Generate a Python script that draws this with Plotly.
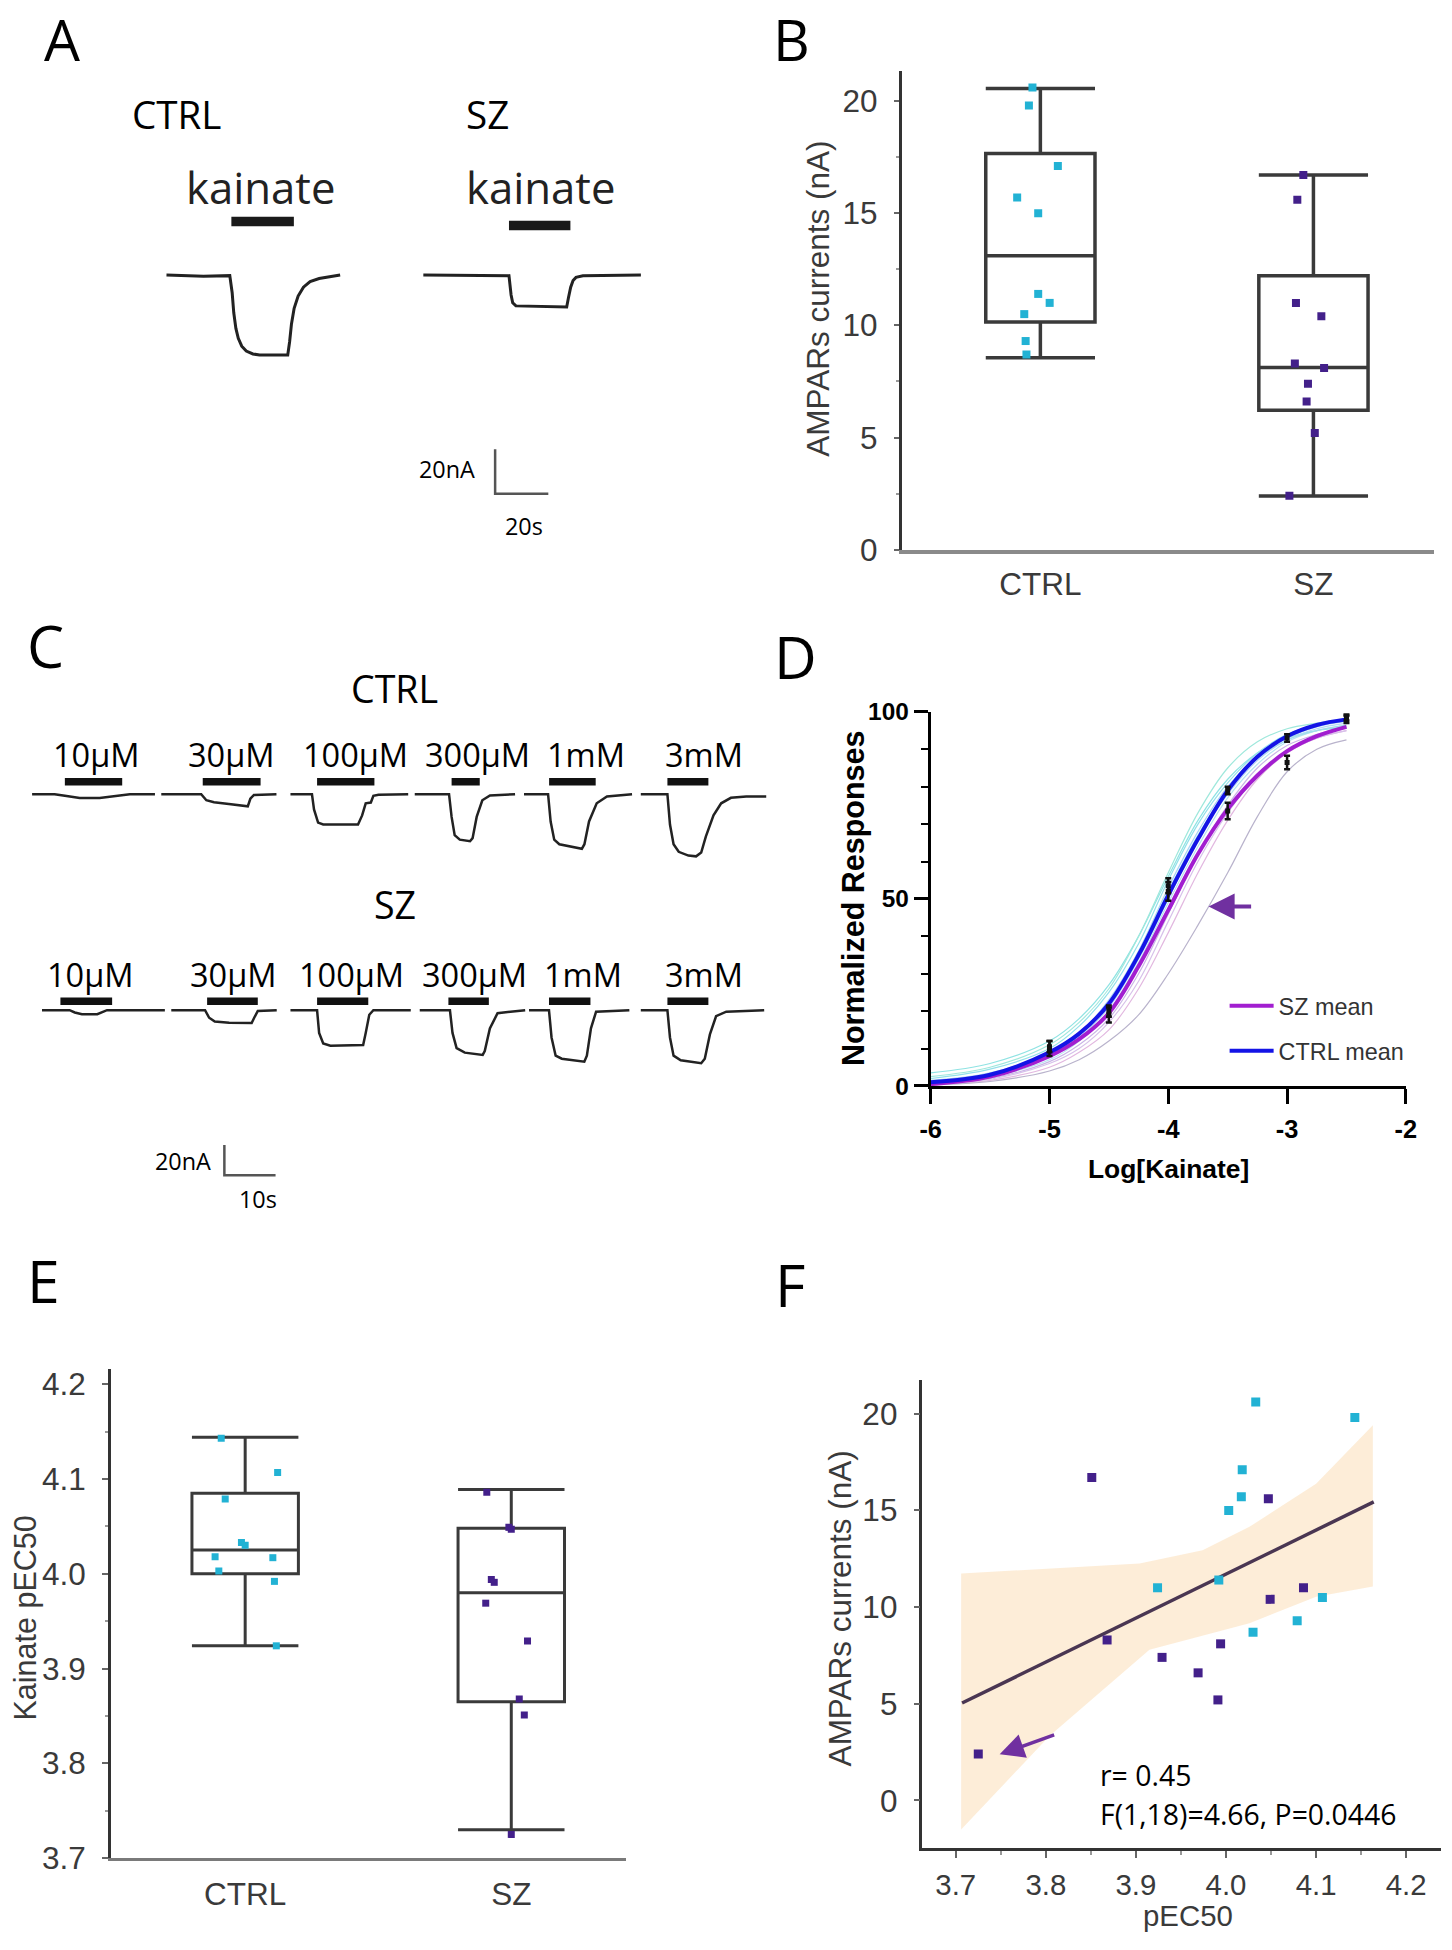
import plotly.graph_objects as go

FW, FH = 1452, 1950
# The captured picture shows the page slightly inset and scaled; positions below are
# given in reference-picture pixels and mapped back to figure pixels.
SHOT_X0, SHOT_SX = 11.2, 0.985
SHOT_Y0, SHOT_SY = 12.4, 0.9865
FS = 1 / SHOT_SX

def px_x(p):
    return ((p - SHOT_X0) / SHOT_SX) / FW

def px_y(p):
    return 1 - ((p - SHOT_Y0) / SHOT_SY) / FH

def fs(v):
    return round(v * FS, 1)

# ======================= DATA =======================
a_ctrl_t = [0, 13.9, 23.8, 24.7, 25.3, 26.1, 27.0, 28.3, 30.0, 32.5, 35.0, 45.6, 46.3, 47.0, 48.0, 49.5, 51.5, 54.0, 57.4, 61.0, 65.3]
a_ctrl_i = [0, -0.6, -0.3, -8, -17, -24, -28.5, -32, -34.2, -35.5, -36, -36, -30, -22, -15, -9.5, -5.5, -3, -1.6, -0.8, 0]
a_sz_t = [0, 32.2, 33.0, 33.6, 34.8, 53.9, 54.6, 55.4, 56.3, 57.4, 60.0, 81.8]
a_sz_i = [0, -0.3, -9, -12.5, -13.9, -14.4, -10, -5.5, -2.5, -1.1, -0.4, 0]
a_ctrl_bar = [24.4, 47.9]
a_sz_bar = [32.2, 55.3]
a_scale_nA = 20
a_scale_s = 20

groups = ["CTRL", "SZ"]
ctrl_current = [20.6, 19.8, 17.1, 15.7, 15.0, 11.4, 11.0, 10.5, 9.3, 8.7]
sz_current = [16.7, 15.6, 11.0, 10.4, 8.3, 8.1, 7.4, 6.6, 5.2, 2.4]
b_box_q1 = [10.15, 6.22]
b_box_med = [13.1, 8.12]
b_box_q3 = [17.66, 12.21]
b_box_lo = [8.55, 2.39]
b_box_hi = [20.56, 16.7]
b_ctrl_jit = [-0.029, -0.042, 0.064, -0.085, -0.008, -0.008, 0.034, -0.059, -0.054, -0.051]
b_sz_jit = [-0.037, -0.059, -0.064, 0.029, -0.068, 0.039, -0.020, -0.025, 0.005, -0.088]

c_conc = ["10µM", "30µM", "100µM", "300µM", "1mM", "3mM"]
c_ctrl_t = [
    [0, 4.4, 6.4, 9.3, 13.2, 17.2, 19.1, 24.0],
    [0, 7.8, 8.8, 10.3, 13.2, 16.2, 16.9, 17.4, 18.1, 22.5],
    [0, 4.2, 4.6, 5.4, 6.4, 13.2, 14.0, 14.7, 15.7, 16.2, 17.2, 23.0],
    [0, 6.7, 7.2, 7.8, 8.8, 10.8, 11.3, 12.1, 13.2, 14.7, 19.6],
    [0, 4.7, 5.2, 5.9, 6.9, 11.3, 11.8, 12.7, 14.2, 16.2, 21.1],
    [0, 5.2, 5.7, 6.4, 7.4, 9.3, 10.8, 11.8, 12.7, 14.2, 15.7, 17.6, 20.6, 24.5],
]
c_ctrl_i = [
    [0, 0, -1, -2.5, -2.5, -1, 0, 0],
    [0, 0, -4, -5.3, -6.4, -7.5, -8, -3, -0.5, 0],
    [0, 0, -10, -18.7, -20, -20, -14, -6, -5.5, -1, -0.3, 0],
    [0, 0, -15, -27, -30, -31, -29, -15, -4, -0.8, 0],
    [0, 0, -18, -30, -33, -36, -33, -18, -6, -1.5, 0],
    [0, 0, -20, -33, -38, -40.5, -41, -38.5, -28, -14, -6, -2.4, -1.6, -1.6],
]
c_ctrl_bar = [[6.4, 17.6], [8.1, 19.4], [5.2, 16.4], [7.2, 12.7], [4.9, 14.0], [5.2, 13.2]]
c_sz_t = [
    [0, 5.4, 6.4, 7.8, 10.8, 11.8, 12.7, 24.0],
    [0, 6.6, 7.4, 8.5, 11.3, 15.7, 16.2, 16.9, 20.6],
    [0, 5.2, 5.6, 6.4, 7.8, 14.2, 14.7, 15.4, 16.2, 23.5],
    [0, 5.9, 6.4, 7.2, 8.8, 12.3, 12.7, 13.7, 15.2, 20.6],
    [0, 3.9, 4.4, 5.2, 6.4, 10.8, 11.3, 12.1, 13.1, 19.6],
    [0, 5.2, 5.7, 6.4, 7.8, 11.8, 12.5, 13.5, 14.7, 16.7, 24.1],
]
c_sz_i = [
    [0, 0, -1.5, -2.7, -2.7, -1, 0, 0],
    [0, 0, -5, -7.5, -8.3, -8.5, -5, -0.5, 0],
    [0, 0, -15, -22, -23.5, -23, -15, -3, 0, 0],
    [0, 0, -15, -25, -28, -29.5, -27, -12, -2, 0],
    [0, 0, -18, -30, -32, -34, -30, -12, -1, 0],
    [0, 0, -18, -30, -33, -35, -32, -16, -4, -1, 0],
]
c_sz_bar = [[3.6, 13.7], [7.0, 16.9], [5.2, 15.2], [5.6, 13.5], [3.9, 12.0], [5.2, 13.2]]
c_scale_nA = 20
c_scale_s = 10

d_logc = [-6, -5.5, -5, -4.75, -4.5, -4.25, -4, -3.75, -3.5, -3.25, -3, -2.75, -2.5]
d_ctrl_mean = [1, 3, 9, 14, 22, 35, 51, 66, 79, 88, 93.5, 96.5, 98]
d_sz_mean = [0.5, 2.5, 8, 12.5, 19.5, 32, 47, 62, 74, 83, 89.5, 93.5, 96]
d_indiv = [
    [3.5, 6, 12, 18, 27, 40, 56, 71, 82, 89, 93, 95, 96],
    [1.5, 3.5, 9, 14, 23, 36, 53, 68, 80, 88, 93, 96, 97.5],
    [2.5, 5, 11, 17, 26, 40, 57, 73, 85, 92, 95.5, 97, 98],
    [0.3, 1.5, 5, 9, 15, 26, 41, 57, 71, 82, 89, 93, 95],
    [0.5, 2, 6.5, 11, 18, 30, 46, 62, 75, 85, 91, 94, 96],
    [1, 3, 8, 13, 21, 34, 50, 66, 78, 87, 92.5, 95.5, 97],
    [0.3, 1.2, 4, 7, 12, 19, 30, 43, 57, 72, 84, 90, 92.5],
    [2, 4.5, 10, 16, 25, 38, 55, 70, 81, 89, 94, 96.5, 97.5],
    [0.8, 2.5, 7, 12, 20, 33, 49, 64, 77, 86, 92, 95, 96.5],
    [1.2, 3.2, 8.5, 13.5, 22, 36, 52, 67, 79, 87.5, 92.5, 95, 96.5],
    [0.4, 1.8, 6, 10, 17, 28, 44, 60, 73, 83, 89.5, 93, 95],
]
d_indiv_colors = ["#8fe3e3", "#a9d4f2", "#9fe8dc", "#e2b8e0", "#c9b6e6", "#b5d9f5", "#b9b3cc",
                  "#93e0ea", "#b7e4f0", "#a0dcec", "#d7c1ea"]
d_dose = [-5, -4.5, -4, -3.5, -3, -2.5]
d_ctrl_pts = [10.5, 20, 53.5, 79, 93, 98.5]
d_ctrl_err = [1.5, 1.5, 2, 1, 1, 0.8]
d_sz_pts = [10, 19, 52, 73.5, 86.5, 98]
d_sz_err = [2, 2, 2.5, 2.2, 1.8, 1]

ctrl_pec50 = [4.033, 4.143, 4.018, 4.017, 4.003, 3.992, 3.924, 4.107, 4.079, 4.030]
sz_pec50 = [3.851, 4.047, 4.086, 4.049, 3.868, 3.994, 3.929, 3.969, 3.991, 3.725]
e_box_q1 = [4.0, 3.865]
e_box_med = [4.025, 3.980]
e_box_q3 = [4.085, 4.048]
e_box_lo = [3.924, 3.730]
e_box_hi = [4.144, 4.089]
e_ctrl_jit = [-0.014, -0.090, -0.113, 0.104, -0.099, 0.110, 0.117, 0.122, -0.075, 0.0]
e_sz_jit = [0.049, 0.0, -0.092, -0.009, 0.030, -0.075, 0.061, -0.096, -0.064, 0.0]

f_fit_x = [3.707, 4.164]
f_fit_y = [5.04, 15.44]
f_band_up_x = [3.706, 3.904, 3.974, 4.026, 4.100, 4.163]
f_band_up_y = [11.74, 12.25, 12.94, 14.15, 16.38, 19.4]
f_band_lo_x = [3.706, 3.804, 3.915, 4.026, 4.100, 4.163]
f_band_lo_y = [-1.5, 3.33, 7.79, 9.16, 10.54, 11.06]

# ======================= STYLE =======================
CYAN = "#22b2d4"
PURPLE = "#43208a"
BOXC = "#3a3a3a"
CAL = "Open Sans"
ARI = "Liberation Sans"

fig = go.Figure()

A_BX, A_BY = 166.7, 275.0
A_SX, A_SY = 2.66, 2.23
A_SZ_OFF = (423.6 - A_BX) / A_SX
A_DOM_X = (150, 660)
A_DOM_Y = (150, 560)
a_xr = [(A_DOM_X[0] - A_BX) / A_SX, (A_DOM_X[1] - A_BX) / A_SX]
a_yr = [(A_BY - A_DOM_Y[1]) / A_SY, (A_BY - A_DOM_Y[0]) / A_SY]
A_BAR_CTRL_LVL = (A_BY - 221.3) / A_SY
A_BAR_SZ_LVL = (A_BY - 225.5) / A_SY
A_SCALE_X = (495.4 - A_BX) / A_SX
A_SCALE_Y = (A_BY - 494.4) / A_SY

tr = dict(xaxis="x", yaxis="y", showlegend=False, hoverinfo="skip")
fig.add_trace(go.Scatter(x=a_ctrl_t, y=a_ctrl_i, mode="lines", line=dict(color="#222", width=3), **tr))
fig.add_trace(go.Scatter(x=[t + A_SZ_OFF for t in a_sz_t], y=a_sz_i, mode="lines",
                         line=dict(color="#222", width=3), **tr))
fig.add_trace(go.Scatter(x=a_ctrl_bar, y=[A_BAR_CTRL_LVL] * 2, mode="lines",
                         line=dict(color="#1a1a1a", width=9.5), **tr))
fig.add_trace(go.Scatter(x=[t + A_SZ_OFF for t in a_sz_bar], y=[A_BAR_SZ_LVL] * 2, mode="lines",
                         line=dict(color="#1a1a1a", width=9.5), **tr))
fig.add_trace(go.Scatter(x=[A_SCALE_X, A_SCALE_X, A_SCALE_X + a_scale_s],
                         y=[A_SCALE_Y + a_scale_nA, A_SCALE_Y, A_SCALE_Y], mode="lines",
                         line=dict(color="#555", width=2.5), **tr))

C_SX, C_SY = 5.12, 1.52
C_BASE_CTRL = 795.5
C_BASE_SZ = 1012.0
C_DOM_X = (12, 780)
C_DOM_Y = (600, 1220)
c_xr = [C_DOM_X[0] / C_SX, C_DOM_X[1] / C_SX]
c_yr = [(C_BASE_CTRL - C_DOM_Y[1]) / C_SY, (C_BASE_CTRL - C_DOM_Y[0]) / C_SY]
C_SZ_SHIFT = (C_BASE_CTRL - C_BASE_SZ) / C_SY
c_ctrl_start_px = [32.3, 161.5, 290.7, 415.0, 524.3, 641.1]
c_sz_start_px = [42.2, 171.5, 290.7, 420.0, 529.3, 641.1]
C_BAR_CTRL_LVL = 8.2
C_BAR_SZ_LVL = 5.9

trc = dict(xaxis="x3", yaxis="y3", showlegend=False, hoverinfo="skip")
for k in range(len(c_conc)):
    off = c_ctrl_start_px[k] / C_SX
    fig.add_trace(go.Scatter(x=[t + off for t in c_ctrl_t[k]], y=c_ctrl_i[k], mode="lines",
                             line=dict(color="#222", width=2.5), **trc))
    fig.add_trace(go.Scatter(x=[t + off for t in c_ctrl_bar[k]], y=[C_BAR_CTRL_LVL] * 2, mode="lines",
                             line=dict(color="#111", width=7.5), **trc))
    off = c_sz_start_px[k] / C_SX
    fig.add_trace(go.Scatter(x=[t + off for t in c_sz_t[k]], y=[v + C_SZ_SHIFT for v in c_sz_i[k]],
                             mode="lines", line=dict(color="#222", width=2.5), **trc))
    fig.add_trace(go.Scatter(x=[t + off for t in c_sz_bar[k]], y=[C_BAR_SZ_LVL + C_SZ_SHIFT] * 2,
                             mode="lines", line=dict(color="#111", width=7.5), **trc))
C_SCALE_X = 224.6 / C_SX
C_SCALE_Y = (C_BASE_CTRL - 1177.5) / C_SY
fig.add_trace(go.Scatter(x=[C_SCALE_X, C_SCALE_X, C_SCALE_X + c_scale_s],
                         y=[C_SCALE_Y + c_scale_nA, C_SCALE_Y, C_SCALE_Y], mode="lines",
                         line=dict(color="#555", width=2.5), **trc))

trb = dict(xaxis="x2", yaxis="y2", showlegend=False, hoverinfo="skip")
for g in range(2):
    fig.add_trace(go.Box(x=[g], q1=[b_box_q1[g]], median=[b_box_med[g]], q3=[b_box_q3[g]],
                         lowerfence=[b_box_lo[g]], upperfence=[b_box_hi[g]],
                         width=0.4, whiskerwidth=1, boxpoints=False,
                         line=dict(color=BOXC, width=3.5), fillcolor="rgba(255,255,255,0)", **trb))
fig.add_trace(go.Scatter(x=[0 + j for j in b_ctrl_jit], y=ctrl_current, mode="markers",
                         marker=dict(symbol="square", size=8, color=CYAN), **trb))
fig.add_trace(go.Scatter(x=[1 + j for j in b_sz_jit], y=sz_current, mode="markers",
                         marker=dict(symbol="square", size=8, color=PURPLE), **trb))

tre = dict(xaxis="x5", yaxis="y5", showlegend=False, hoverinfo="skip")
for g in range(2):
    fig.add_trace(go.Box(x=[g], q1=[e_box_q1[g]], median=[e_box_med[g]], q3=[e_box_q3[g]],
                         lowerfence=[e_box_lo[g]], upperfence=[e_box_hi[g]],
                         width=0.4, whiskerwidth=1, boxpoints=False,
                         line=dict(color=BOXC, width=3), fillcolor="rgba(255,255,255,0)", **tre))
fig.add_trace(go.Scatter(x=[0 + j for j in e_ctrl_jit], y=ctrl_pec50, mode="markers",
                         marker=dict(symbol="square", size=7, color=CYAN), **tre))
fig.add_trace(go.Scatter(x=[1 + j for j in e_sz_jit], y=sz_pec50, mode="markers",
                         marker=dict(symbol="square", size=7, color=PURPLE), **tre))

trd = dict(xaxis="x4", yaxis="y4", hoverinfo="skip")
for curve, col in zip(d_indiv, d_indiv_colors):
    fig.add_trace(go.Scatter(x=d_logc, y=curve, mode="lines", line=dict(color=col, width=1.2, shape="spline"),
                             showlegend=False, **trd))
fig.add_trace(go.Scatter(x=d_logc, y=d_sz_mean, mode="lines", name="SZ mean",
                         line=dict(color="#a21ed0", width=4, shape="spline"), legendgroup="a", **trd))
fig.add_trace(go.Scatter(x=d_logc, y=d_ctrl_mean, mode="lines", name="CTRL mean",
                         line=dict(color="#1414e6", width=4, shape="spline"), legendgroup="b", **trd))
fig.add_trace(go.Scatter(x=d_dose, y=d_sz_pts, mode="markers", showlegend=False,
                         marker=dict(color="#111", size=5, symbol="square"),
                         error_y=dict(type="data", array=d_sz_err, color="#111", thickness=2.5, width=3), **trd))
fig.add_trace(go.Scatter(x=d_dose, y=d_ctrl_pts, mode="markers", showlegend=False,
                         marker=dict(color="#111", size=5, symbol="square"),
                         error_y=dict(type="data", array=d_ctrl_err, color="#111", thickness=2.5, width=3), **trd))

trf = dict(xaxis="x6", yaxis="y6", showlegend=False, hoverinfo="skip")
fig.add_trace(go.Scatter(x=f_band_up_x + f_band_lo_x[::-1], y=f_band_up_y + f_band_lo_y[::-1],
                         mode="lines", fill="toself", fillcolor="rgba(251,214,168,0.45)",
                         line=dict(width=0), **trf))
fig.add_trace(go.Scatter(x=f_fit_x, y=f_fit_y, mode="lines", line=dict(color="#4a3652", width=3.5), **trf))
fig.add_trace(go.Scatter(x=ctrl_pec50, y=ctrl_current, mode="markers",
                         marker=dict(symbol="square", size=9, color=CYAN), **trf))
fig.add_trace(go.Scatter(x=sz_pec50, y=sz_current, mode="markers",
                         marker=dict(symbol="square", size=9, color=PURPLE), **trf))

hidden = dict(visible=False, showgrid=False, zeroline=False, fixedrange=True)
gray_tick = dict(family=ARI, size=fs(31), color="#3a3a3a")
E_TOP, E_BOT = 1371.7, 1862.0
e_range = [3.7, 3.7 + (E_BOT - E_TOP) / 950.0]
F_LEFT, F_RIGHT = 922.8, 1441.0
f_xrange = [3.7 + (F_LEFT - 956.1) / 901.0, 3.7 + (F_RIGHT - 956.1) / 901.0]

layout_axes = dict(
    xaxis=dict(domain=[px_x(A_DOM_X[0]), px_x(A_DOM_X[1])], range=a_xr, anchor="y", **hidden),
    yaxis=dict(domain=[px_y(A_DOM_Y[1]), px_y(A_DOM_Y[0])], range=a_yr, anchor="x", **hidden),
    xaxis3=dict(domain=[px_x(C_DOM_X[0]), px_x(C_DOM_X[1])], range=c_xr, anchor="y3", **hidden),
    yaxis3=dict(domain=[px_y(C_DOM_Y[1]), px_y(C_DOM_Y[0])], range=c_yr, anchor="x3", **hidden),
    xaxis2=dict(domain=[px_x(902), px_x(1434)], range=[-0.508, 1.44], anchor="y2",
                tickvals=[0, 1], ticktext=groups, ticks="", showline=True, linecolor="#8a8a8a",
                linewidth=4, tickfont=gray_tick, ticklabelstandoff=4, showgrid=False, zeroline=False),
    yaxis2=dict(domain=[px_y(550.4), px_y(70.9)], range=[0, 21.32], anchor="x2",
                tickvals=[0, 5, 10, 15, 20], ticks="outside", ticklen=5, tickwidth=1.5, tickcolor="#666",
                minor=dict(tickvals=[2.5, 7.5, 12.5, 17.5], ticks="outside", ticklen=3, tickcolor="#999"),
                showline=True, linecolor="#333", linewidth=2.5, tickfont=gray_tick,
                ticklabelstandoff=10, showgrid=False, zeroline=False),
    xaxis4=dict(domain=[px_x(931), px_x(1406.3)], range=[-6, -2], anchor="y4",
                tickvals=[-6, -5, -4, -3, -2], ticktext=["-6", "-5", "-4", "-3", "-2"],
                ticks="outside", ticklen=15, tickwidth=3, tickcolor="#000",
                showline=True, linecolor="#000", linewidth=3,
                tickfont=dict(family=ARI, size=fs(25), color="#000", weight="bold"),
                ticklabelstandoff=4, showgrid=False, zeroline=False),
    yaxis4=dict(domain=[px_y(1088), px_y(713)], range=[0, 100], anchor="x4",
                tickvals=[0, 50, 100], ticks="outside", ticklen=14, tickwidth=3, tickcolor="#000",
                minor=dict(dtick=10, ticks="outside", ticklen=7, tickwidth=2, tickcolor="#000"),
                showline=True, linecolor="#000", linewidth=3,
                tickfont=dict(family=ARI, size=fs(24), color="#000", weight="bold"),
                ticklabelstandoff=0, showgrid=False, zeroline=False),
    xaxis5=dict(domain=[px_x(111), px_x(626)], range=[-0.505, 1.43], anchor="y5",
                tickvals=[0, 1], ticktext=groups, ticks="", showline=True, linecolor="#7a7a7a",
                linewidth=3, tickfont=dict(family=ARI, size=fs(31), color="#3a3a3a"),
                ticklabelstandoff=6, showgrid=False, zeroline=False),
    yaxis5=dict(domain=[px_y(E_BOT), px_y(E_TOP)], range=e_range, anchor="x5",
                tickvals=[3.7, 3.8, 3.9, 4.0, 4.1, 4.2], ticktext=["3.7", "3.8", "3.9", "4.0", "4.1", "4.2"],
                ticks="outside", ticklen=6, tickwidth=1.5, tickcolor="#666",
                minor=dict(tickvals=[3.75, 3.85, 3.95, 4.05, 4.15], ticks="outside", ticklen=3, tickcolor="#999"),
                showline=True, linecolor="#333", linewidth=2.5,
                tickfont=dict(family=ARI, size=fs(31), color="#3a3a3a"),
                ticklabelstandoff=10, showgrid=False, zeroline=False),
    xaxis6=dict(domain=[px_x(F_LEFT), px_x(F_RIGHT)], range=f_xrange, anchor="y6",
                tickvals=[3.7, 3.8, 3.9, 4.0, 4.1, 4.2], ticktext=["3.7", "3.8", "3.9", "4.0", "4.1", "4.2"],
                ticks="outside", ticklen=7, tickwidth=1.5, tickcolor="#666",
                minor=dict(tickvals=[3.75, 3.85, 3.95, 4.05, 4.15], ticks="outside", ticklen=4, tickcolor="#999"),
                showline=True, linecolor="#333", linewidth=2.5,
                tickfont=dict(family=ARI, size=fs(29), color="#3a3a3a"),
                ticklabelstandoff=2, showgrid=False, zeroline=False),
    yaxis6=dict(domain=[px_y(1852.3), px_y(1383)], range=[-2.48, 21.73], anchor="x6",
                tickvals=[0, 5, 10, 15, 20], ticks="outside", ticklen=6, tickwidth=1.5, tickcolor="#666",
                showline=True, linecolor="#333", linewidth=2.5,
                tickfont=dict(family=ARI, size=fs(31), color="#3a3a3a"),
                ticklabelstandoff=10, showgrid=False, zeroline=False),
)

ann = []

def txt(s, x, y, size, family=CAL, color="#000", xanchor="center", yanchor="middle", angle=0, weight="normal"):
    ann.append(dict(text=s, x=px_x(x), y=px_y(y), xref="paper", yref="paper", showarrow=False,
                    xanchor=xanchor, yanchor=yanchor, textangle=angle,
                    font=dict(family=family, size=fs(size), color=color, weight=weight)))

txt("A", 62, 38, 56)
txt("B", 792, 38, 56)
for letter, (lx, ly) in {"C": (46, 646), "D": (796, 657), "E": (44, 1282), "F": (790, 1286)}.items():
    txt(letter, lx, ly, 58)

txt("CTRL", 177, 114, 38)
txt("SZ", 488, 114, 38)
txt("kainate", 260.5, 187, 43, color="#222")
txt("kainate", 540.5, 187, 43, color="#222")
txt("20nA", 477, 470, 23, xanchor="right")
txt("20s", 524, 527, 23)

txt("CTRL", 395, 690, 37)
txt("SZ", 395, 906, 37)
c_ctrl_lbl_x = [97, 231.6, 355.4, 477.6, 586, 704.3]
c_sz_lbl_x = [90.5, 234, 352, 474.6, 583.5, 704.3]
for k, lab in enumerate(c_conc):
    txt(lab, c_ctrl_lbl_x[k], 756, 32)
    txt(lab, c_sz_lbl_x[k], 976, 32)
txt("20nA", 213.7, 1163, 23, xanchor="right")
txt("10s", 258, 1201, 23)

txt("AMPARs currents (nA)", 818.6, 298.5, 31, family=ARI, color="#3a3a3a", angle=-90)
txt("Normalized Responses", 854, 900, 30, family=ARI, color="#000", angle=-90, weight="bold")
txt("Log[Kainate]", 1169, 1171.5, 26, family=ARI, color="#000", weight="bold")
txt("Kainate pEC50", 26, 1621, 30, family=ARI, color="#3a3a3a", angle=-90)
txt("AMPARs currents (nA)", 840, 1612, 31, family=ARI, color="#3a3a3a", angle=-90)
txt("pEC50", 1188, 1919.5, 29, family=ARI, color="#3a3a3a")

txt("r= 0.45", 1098.3, 1779, 28, xanchor="left")
txt("F(1,18)=4.66, P=0.0446", 1098.3, 1817.5, 28, xanchor="left")

ann.append(dict(x=px_x(1209), y=px_y(908), xref="paper", yref="paper", ax=44, ay=0,
                showarrow=True, arrowhead=2, arrowsize=1.3, arrowwidth=4, arrowcolor="#7030a0", text=""))
ann.append(dict(x=px_x(1000), y=px_y(1758), xref="paper", yref="paper", ax=56, ay=-20,
                showarrow=True, arrowhead=2, arrowsize=1.4, arrowwidth=3.5, arrowcolor="#7030a0", text=""))

fig.update_layout(
    width=FW, height=FH, autosize=False,
    margin=dict(l=0, r=0, t=0, b=0, pad=0),
    paper_bgcolor="white", plot_bgcolor="white",
    showlegend=True,
    legend=dict(x=px_x(1225), y=px_y(985.7), xanchor="left", yanchor="top",
                font=dict(family=ARI, size=fs(23), color="#333"), bgcolor="rgba(0,0,0,0)",
                itemwidth=44, tracegroupgap=11.6, borderwidth=0),
    annotations=ann,
    **layout_axes,
)

reset_css = ("var s=document.createElement('style');"
             "s.textContent='html,body{margin:0!important;padding:0!important;overflow:hidden;}"
             "body>div{margin:0;padding:0;line-height:0;}';"
             "document.head.appendChild(s);")
fig.write_html("out.html", config={"displayModeBar": False}, post_script=reset_css)
